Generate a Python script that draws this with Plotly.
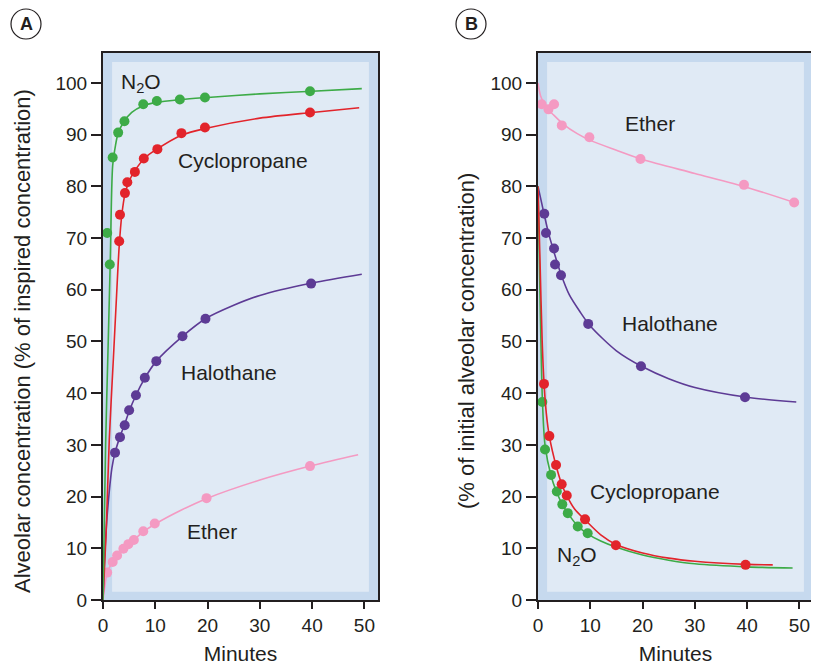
import plotly.graph_objects as go

# ---------------- Panel A data (uptake) ----------------
tA_n2o = [0.8, 1.3, 1.85, 2.9, 4.1, 7.7, 10.3, 14.7, 19.5, 39.6]
vA_n2o = [71.0, 64.9, 85.6, 90.4, 92.6, 95.9, 96.5, 96.8, 97.2, 98.4]
cA_n2o_t = [0, 0.5, 1.0, 1.4, 1.85, 2.4, 2.9, 4.0, 5.5, 7.7, 10, 15, 20, 30, 40, 49.5]
cA_n2o_v = [0, 30, 50, 66, 84, 88, 90.3, 92.5, 94.3, 95.6, 96.2, 96.8, 97.2, 97.9, 98.4, 98.9]

tA_cyc = [3.1, 3.25, 4.2, 4.65, 6.1, 7.8, 10.4, 15.0, 19.5, 39.6]
vA_cyc = [69.4, 74.5, 78.7, 80.8, 82.8, 85.4, 87.2, 90.3, 91.4, 94.3]
cA_cyc_t = [0, 0.6, 1.2, 2.0, 2.6, 3.1, 3.6, 4.2, 5.0, 6.0, 8, 10, 15, 20, 30, 40, 49]
cA_cyc_v = [0, 13, 31, 47, 59, 68.5, 74.5, 78.5, 81, 82.9, 85.5, 87, 89.9, 91.3, 93.2, 94.3, 95.2]

tA_hal = [2.3, 3.25, 4.15, 5.0, 6.3, 8.0, 10.2, 15.2, 19.6, 39.8]
vA_hal = [28.5, 31.5, 33.8, 36.7, 39.6, 43.0, 46.2, 51.0, 54.4, 61.2]
cA_hal_t = [0, 0.3, 0.7, 1.2, 1.7, 2.3, 3.25, 4.15, 5.0, 6.3, 8.0, 10.2, 15.2, 19.6, 25, 30, 40, 49.5]
cA_hal_v = [0, 8, 15, 21, 25.5, 28.5, 31.6, 34, 36.5, 39.6, 42.9, 46.2, 51, 54.4, 57, 58.9, 61.3, 63]

tA_eth = [0.8, 1.85, 2.7, 3.9, 4.85, 5.9, 7.7, 9.9, 19.8, 39.6]
vA_eth = [5.3, 7.35, 8.6, 9.9, 10.8, 11.6, 13.3, 14.8, 19.7, 25.9]
cA_eth_t = [0, 0.4, 0.8, 1.85, 2.7, 3.9, 5.0, 6.0, 7.7, 10, 15, 20, 30, 40, 48.8]
cA_eth_v = [0, 3, 5.3, 7.4, 8.6, 9.9, 10.8, 11.7, 13.2, 14.7, 17.4, 19.7, 23.2, 26, 28.1]

# ---------------- Panel B data (elimination) ----------------
tB_eth = [0.7, 2.0, 3.07, 4.55, 9.83, 19.6, 39.4, 49.0]
vB_eth = [95.9, 94.9, 95.9, 91.8, 89.5, 85.3, 80.3, 76.9]
cB_eth_t = [0, 0.5, 1.5, 3, 5, 7.5, 10, 15, 20, 30, 40, 49]
cB_eth_v = [100, 97.5, 95.4, 93.8, 91.9, 90.2, 88.9, 87, 85.2, 82.5, 79.8, 76.9]

tB_hal = [1.2, 1.53, 3.07, 3.26, 4.4, 9.6, 19.7, 39.6]
vB_hal = [74.7, 71.0, 68.0, 64.9, 62.8, 53.4, 45.2, 39.2]
cB_hal_t = [0, 1.2, 2, 3, 4.4, 6, 8, 10, 15, 20, 25, 30, 40, 49.4]
cB_hal_v = [80, 74.5, 71, 67.5, 63, 59, 55.8, 53, 48.2, 45.1, 42.8, 41.1, 39.2, 38.3]

tB_cyc = [1.15, 2.17, 3.45, 4.53, 5.5, 9.0, 14.9, 39.7]
vB_cyc = [41.8, 31.7, 26.1, 22.4, 20.2, 15.6, 10.6, 6.8]
cB_cyc_t = [0, 0.4, 0.8, 1.15, 1.6, 2.2, 3.45, 4.5, 5.5, 7, 9, 12, 15, 20, 25, 30, 40, 44.9]
cB_cyc_v = [80, 65, 50, 42, 36, 31.5, 26, 22.5, 20.2, 17.6, 15.5, 12.6, 10.7, 9.1, 8.1, 7.5, 6.9, 6.8]

tB_n2o = [0.83, 1.34, 2.5, 3.6, 4.65, 5.7, 7.6, 9.5]
vB_n2o = [38.3, 29.1, 24.2, 21.0, 18.5, 16.8, 14.2, 12.9]
cB_n2o_t = [0, 0.4, 0.83, 1.34, 2.5, 3.6, 4.65, 5.7, 7.6, 9.5, 12, 15, 20, 25, 30, 40, 48.7]
cB_n2o_v = [80, 58, 39, 30, 24, 20.8, 18.5, 16.8, 14.3, 12.8, 11.4, 10.2, 8.7, 7.7, 7.0, 6.4, 6.2]

x_ticks = [0, 10, 20, 30, 40, 50]
y_ticks = [0, 10, 20, 30, 40, 50, 60, 70, 80, 90, 100]

GREEN = "#3dab47"
RED = "#e2242b"
PURPLE = "#5d3b95"
PINK = "#f49ac2"
TXT = "#231f20"
OUTER = "#c6d9ee"
INNER = "#e0eaf5"
FONT = "Liberation Sans, Arial, sans-serif"

fig = go.Figure()

def add_series(t, v, ct, cv, color, xa, ya):
    fig.add_trace(go.Scatter(x=ct, y=cv, mode="lines", xaxis=xa, yaxis=ya,
                             line=dict(color=color, width=1.6, shape="spline", smoothing=0.8),
                             hoverinfo="skip", showlegend=False))
    fig.add_trace(go.Scatter(x=t, y=v, mode="markers", xaxis=xa, yaxis=ya,
                             marker=dict(color=color, size=10, line=dict(width=0)),
                             showlegend=False))

add_series(tA_eth, vA_eth, cA_eth_t, cA_eth_v, PINK, "x", "y")
add_series(tA_hal, vA_hal, cA_hal_t, cA_hal_v, PURPLE, "x", "y")
add_series(tA_cyc, vA_cyc, cA_cyc_t, cA_cyc_v, RED, "x", "y")
add_series(tA_n2o, vA_n2o, cA_n2o_t, cA_n2o_v, GREEN, "x", "y")

add_series(tB_eth, vB_eth, cB_eth_t, cB_eth_v, PINK, "x2", "y2")
add_series(tB_hal, vB_hal, cB_hal_t, cB_hal_v, PURPLE, "x2", "y2")
add_series(tB_n2o, vB_n2o, cB_n2o_t, cB_n2o_v, GREEN, "x2", "y2")
add_series(tB_cyc, vB_cyc, cB_cyc_t, cB_cyc_v, RED, "x2", "y2")

# the page body has an 8 px margin, so the figure is sized/positioned to compensate
OFF = 8
W, H = 819 - OFF, 665 - OFF

def px_x(p):
    return (p - OFF) / W

def px_y(p):
    return 1 - (p - OFF) / H

dA = [px_x(103), px_x(378)]
dB = [px_x(538), px_x(813)]
dY = [px_y(600), px_y(53)]
XR = [0, 52.6]
YR = [0, 105.8]

tickfont = dict(family=FONT, size=19, color=TXT)
titlefont = dict(family=FONT, size=21, color=TXT)
ytitlefont = dict(family=FONT, size=22, color=TXT)

def xmain(domain, anchor):
    return dict(domain=domain, range=XR, anchor=anchor, tickvals=x_ticks,
                ticks="outside", ticklen=7, tickwidth=1.5, tickcolor=TXT,
                showline=True, linecolor=TXT, linewidth=2, mirror=True,
                showgrid=False, zeroline=False, tickfont=tickfont, automargin=False,
                title=dict(text="Minutes", font=titlefont, standoff=12),
                fixedrange=True)

def ymain(domain, anchor):
    return dict(domain=domain, range=YR, anchor=anchor, tickvals=y_ticks,
                ticks="outside", ticklen=10, tickwidth=1.5, tickcolor=TXT,
                showline=True, linecolor=TXT, linewidth=2, mirror=True,
                showgrid=False, zeroline=False, tickfont=tickfont, automargin=False,
                fixedrange=True)

def xtop(over, anchor):
    return dict(overlaying=over, side="top", anchor=anchor, range=XR, tickvals=x_ticks,
                ticks="inside", ticklen=8, tickwidth=1.5, tickcolor=TXT, automargin=False,
                showticklabels=False, showline=False, showgrid=False, zeroline=False,
                fixedrange=True)

def yright(over, anchor):
    return dict(overlaying=over, side="right", anchor=anchor, range=YR, tickvals=y_ticks,
                ticks="inside", ticklen=6, tickwidth=1.5, tickcolor=TXT, automargin=False,
                showticklabels=False, showline=False, showgrid=False, zeroline=False,
                fixedrange=True)

fig.update_layout(
    width=W, height=H,
    margin=dict(l=0, r=0, t=0, b=0, autoexpand=False),
    paper_bgcolor="white",
    plot_bgcolor=OUTER,
    font=dict(family=FONT, color=TXT),
    xaxis=xmain(dA, "y"),
    yaxis=ymain(dY, "x"),
    xaxis2=xmain(dB, "y2"),
    yaxis2=ymain(dY, "x2"),
    xaxis3=xtop("x", "y"),
    yaxis3=yright("y", "x"),
    xaxis4=xtop("x2", "y2"),
    yaxis4=yright("y2", "x2"),
)

# y-axis titles (placed as rotated text)
for cx, txt in ((22, "Alveolar concentration (% of inspired concentration)"),
                (466, "(% of initial alveolar concentration)")):
    fig.add_annotation(xref="paper", yref="paper", x=px_x(cx), y=px_y(341), text=txt,
                       textangle=-90, showarrow=False, font=ytitlefont,
                       xanchor="center", yanchor="middle")

# inner lighter panels
for xr, yr in (("x domain", "y domain"), ("x2 domain", "y2 domain")):
    fig.add_shape(type="rect", xref=xr, yref=yr, x0=0.033, x1=0.967, y0=0.015, y1=0.9835,
                  fillcolor=INNER, line=dict(width=0), layer="below")

lab = dict(family=FONT, size=21, color=TXT)
labels = [
    ("x", "y", 7.3, 100.0, "N<sub>2</sub>O"),
    ("x", "y", 26.7, 85.1, "Cyclopropane"),
    ("x", "y", 24.1, 44.1, "Halothane"),
    ("x", "y", 20.8, 13.2, "Ether"),
    ("x2", "y2", 21.5, 92.1, "Ether"),
    ("x2", "y2", 25.3, 53.5, "Halothane"),
    ("x2", "y2", 22.4, 21.0, "Cyclopropane"),
    ("x2", "y2", 7.5, 8.5, "N<sub>2</sub>O"),
]
for xr, yr, x, y, t in labels:
    fig.add_annotation(xref=xr, yref=yr, x=x, y=y, text=t, showarrow=False, font=lab,
                       xanchor="center", yanchor="middle")

# circled panel letters
for cx, letter in ((26, "A"), (471, "B")):
    cy = 24
    r = 15
    fig.add_shape(type="circle", xref="paper", yref="paper",
                  x0=px_x(cx - r), x1=px_x(cx + r), y0=px_y(cy + r), y1=px_y(cy - r),
                  line=dict(color=TXT, width=1.2))
    fig.add_annotation(xref="paper", yref="paper", x=px_x(cx), y=px_y(cy),
                       text="<b>%s</b>" % letter, showarrow=False,
                       font=dict(family=FONT, size=18, color=TXT),
                       xanchor="center", yanchor="middle")

fig.write_html("out.html")
